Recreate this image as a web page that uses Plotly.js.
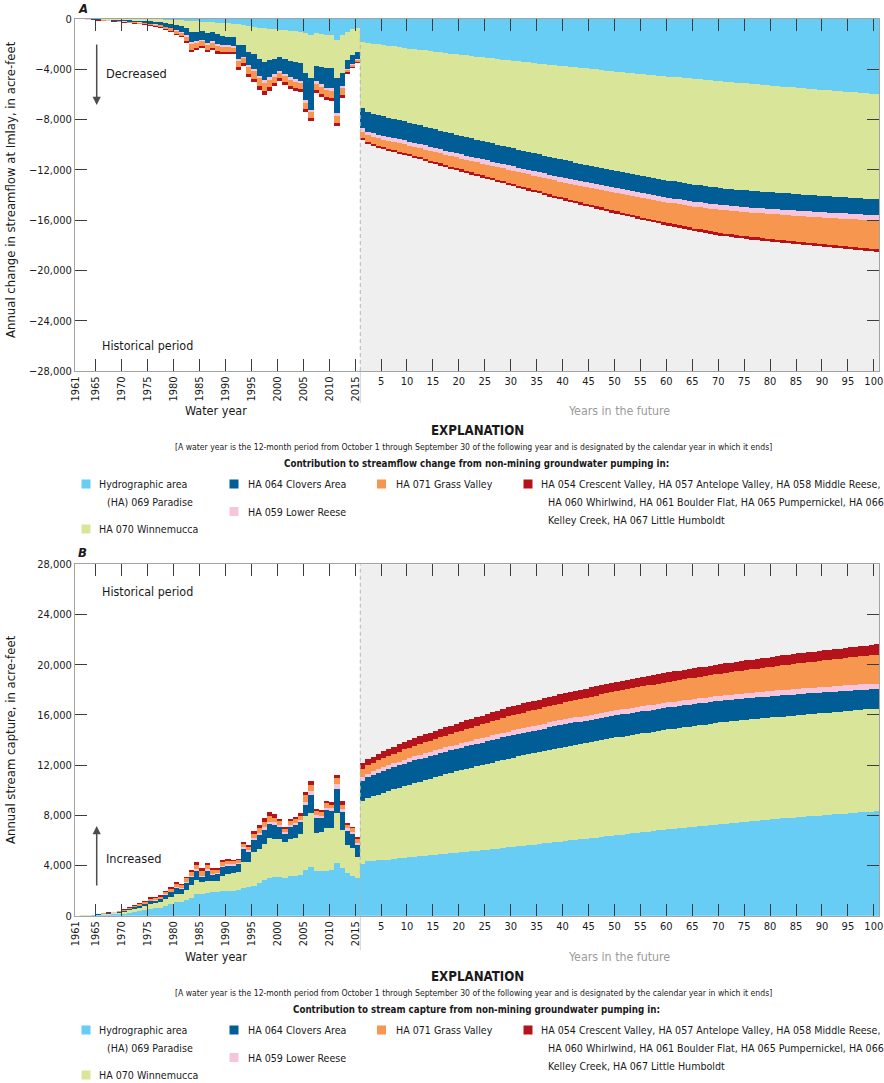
<!DOCTYPE html>
<html>
<head>
<meta charset="utf-8">
<script src="https://cdn.plot.ly/plotly-3.0.1.min.js"></script>
<style>
  html, body { margin: 0; padding: 0; background: #ffffff; }
  #chart { width: 884px; height: 1083px; }
</style>
</head>
<body>
<div id="chart"></div>
<script>
// ---------------------------------------------------------------------------
// Time axis: water years 1961-2015, then years 1-100 in the future
// ---------------------------------------------------------------------------
const histYears = Array.from({ length: 55 }, (_, i) => 1961 + i);
const futureYears = Array.from({ length: 100 }, (_, i) => i + 1);

const histTickYears = [1961, 1965, 1970, 1975, 1980, 1985, 1990, 1995, 2000, 2005, 2010, 2015];
const histTickLabels = ['1961', '1965', '1970', '1975', '1980', '1985', '1990', '1995', '2000', '2005', '2010', '2015'];
const futureTickYears = [5, 10, 15, 20, 25, 30, 35, 40, 45, 50, 55, 60, 65, 70, 75, 80, 85, 90, 95, 100];
const futureTickLabels = ['5', '10', '15', '20', '25', '30', '35', '40', '45', '50', '55', '60', '65', '70', '75', '80', '85', '90', '95', '100'];

const aTickVals = [0, -4000, -8000, -12000, -16000, -20000, -24000, -28000];
const bTickVals = [0, 4000, 8000, 12000, 16000, 20000, 24000, 28000];

// ---------------------------------------------------------------------------
// A: annual change in streamflow at Imlay (acre-feet), by pumping area
// ---------------------------------------------------------------------------
const aParadiseHist = [0, -1, -2, -4, -5, -6, -7, -8, -9, -11,
  -13, -15, -17, -19, -25, -30, -35, -45, -55, -80,
  -100, -130, -170, -180, -230, -250, -260, -300, -320, -350,
  -370, -430, -450, -550, -600, -680, -720, -780, -820, -850,
  -880, -920, -950, -1000, -1150, -1300, -1150, -1200, -1250, -1300,
  -1650, -1300, -1000, -820, -680];
const aWinnemuccaHist = [-5, -11, -17, -25, -34, -42, -48, -56, -64, -78,
  -90, -104, -118, -132, -155, -170, -195, -275, -305, -390,
  -430, -570, -880, -820, -720, -850, -740, -900, -1030, -1050,
  -1080, -1670, -1650, -2050, -2200, -2520, -2680, -2520, -2330, -2150,
  -2320, -2430, -2500, -2500, -3150, -3400, -2550, -2600, -2650, -2600,
  -3050, -3000, -2300, -2030, -1920];
const aCloversHist = [-6, -13, -19, -29, -38, -48, -54, -64, -74, -90,
  -102, -118, -134, -150, -180, -200, -220, -280, -320, -430,
  -470, -600, -800, -750, -700, -800, -750, -800, -750, -700,
  -700, -1100, -900, -1050, -1150, -1300, -1450, -1350, -1250, -1100,
  -1200, -1300, -1350, -1400, -2150, -2500, -1250, -1400, -1550, -1600,
  -2750, -1000, -650, -700, -600];
const aLowerReeseHist = [-2, -3, -4, -6, -8, -11, -12, -14, -17, -20,
  -23, -27, -30, -34, -40, -44, -50, -60, -64, -80,
  -90, -120, -160, -150, -130, -150, -140, -150, -140, -130,
  -130, -170, -140, -190, -210, -230, -240, -210, -180, -160,
  -170, -180, -180, -180, -200, -200, -190, -200, -200, -200,
  -250, -200, -80, -70, -64];
const aGrassHist = [-4, -7, -12, -17, -23, -29, -33, -39, -45, -55,
  -63, -72, -82, -92, -110, -121, -138, -165, -176, -220,
  -248, -330, -440, -412, -358, -412, -385, -412, -385, -358,
  -358, -468, -385, -522, -578, -632, -660, -578, -495, -440,
  -468, -495, -495, -495, -500, -480, -522, -550, -550, -550,
  -550, -550, -220, -192, -176];
const aOtherHist = [-2, -4, -6, -9, -12, -14, -16, -19, -21, -26,
  -29, -34, -39, -43, -50, -55, -62, -75, -80, -100,
  -112, -150, -200, -188, -162, -188, -175, -188, -175, -162,
  -162, -212, -175, -238, -262, -288, -300, -262, -225, -200,
  -212, -225, -225, -225, -220, -220, -238, -250, -250, -250,
  -250, -250, -100, -88, -80];

const aParadiseFuture = [-1850, -1910, -1960, -2020, -2070, -2130, -2180, -2240, -2290, -2350,
  -2400, -2450, -2500, -2550, -2600, -2650, -2700, -2750, -2800, -2850,
  -2900, -2940, -2990, -3040, -3090, -3130, -3180, -3230, -3270, -3320,
  -3360, -3410, -3450, -3500, -3540, -3580, -3630, -3670, -3720, -3760,
  -3800, -3840, -3890, -3930, -3970, -4010, -4050, -4100, -4140, -4180,
  -4220, -4260, -4300, -4340, -4380, -4420, -4460, -4500, -4540, -4580,
  -4620, -4650, -4690, -4730, -4770, -4800, -4840, -4880, -4910, -4950,
  -4990, -5020, -5060, -5090, -5130, -5160, -5200, -5230, -5270, -5300,
  -5330, -5370, -5400, -5440, -5470, -5500, -5540, -5570, -5610, -5640,
  -5670, -5710, -5740, -5770, -5800, -5840, -5870, -5900, -5940, -5970];
const aWinnemuccaFuture = [-5250, -5490, -5590, -5630, -5680, -5720, -5770, -5810, -5860, -5900,
  -5960, -6010, -6070, -6120, -6180, -6230, -6290, -6340, -6400, -6450,
  -6500, -6560, -6610, -6660, -6720, -6770, -6820, -6870, -6930, -6980,
  -7030, -7080, -7130, -7180, -7230, -7290, -7340, -7390, -7440, -7490,
  -7530, -7580, -7620, -7660, -7710, -7750, -7790, -7830, -7880, -7920,
  -7960, -7990, -8030, -8060, -8100, -8130, -8170, -8200, -8240, -8270,
  -8300, -8320, -8350, -8370, -8400, -8420, -8440, -8460, -8480, -8500,
  -8500, -8505, -8505, -8510, -8510, -8510, -8505, -8505, -8500, -8500,
  -8490, -8490, -8480, -8480, -8470, -8460, -8460, -8450, -8450, -8440,
  -8430, -8420, -8420, -8410, -8400, -8390, -8380, -8380, -8370, -8360];
const aCloversFuture = [-1550, -1550, -1540, -1540, -1530, -1530, -1520, -1520, -1510, -1500,
  -1500, -1500, -1490, -1490, -1480, -1480, -1470, -1470, -1460, -1460,
  -1460, -1450, -1450, -1450, -1440, -1440, -1440, -1430, -1430, -1430,
  -1430, -1420, -1420, -1420, -1410, -1410, -1410, -1400, -1400, -1400,
  -1400, -1400, -1390, -1390, -1390, -1390, -1380, -1380, -1380, -1380,
  -1380, -1370, -1370, -1370, -1370, -1370, -1360, -1360, -1360, -1360,
  -1360, -1350, -1350, -1350, -1350, -1350, -1340, -1340, -1340, -1340,
  -1340, -1330, -1330, -1330, -1330, -1330, -1320, -1320, -1320, -1320,
  -1320, -1310, -1310, -1310, -1310, -1310, -1300, -1300, -1300, -1300,
  -1300, -1290, -1290, -1290, -1290, -1290, -1280, -1280, -1280, -1280];
const aLowerReeseFuture = [-300, -300, -305, -305, -310, -310, -315, -315, -320, -320,
  -320, -325, -325, -330, -330, -330, -335, -335, -340, -340,
  -340, -345, -345, -345, -350, -350, -350, -355, -355, -355,
  -360, -360, -360, -360, -365, -365, -365, -370, -370, -370,
  -370, -375, -375, -375, -375, -380, -380, -380, -380, -380,
  -385, -385, -385, -385, -390, -390, -390, -390, -390, -395,
  -395, -395, -395, -395, -400, -400, -400, -400, -400, -400,
  -400, -405, -405, -405, -405, -405, -405, -410, -410, -410,
  -410, -410, -410, -410, -415, -415, -415, -415, -415, -415,
  -415, -415, -420, -420, -420, -420, -420, -420, -420, -420];
const aGrassFuture = [-550, -570, -580, -600, -620, -630, -650, -670, -680, -700,
  -720, -730, -750, -770, -790, -800, -820, -840, -850, -870,
  -890, -910, -920, -940, -960, -980, -1000, -1010, -1030, -1050,
  -1070, -1090, -1110, -1130, -1150, -1170, -1190, -1210, -1230, -1250,
  -1270, -1290, -1310, -1330, -1350, -1370, -1390, -1410, -1430, -1450,
  -1470, -1490, -1510, -1530, -1550, -1570, -1590, -1610, -1630, -1650,
  -1670, -1690, -1710, -1730, -1750, -1770, -1790, -1810, -1830, -1850,
  -1860, -1880, -1890, -1900, -1920, -1930, -1940, -1950, -1970, -1980,
  -1990, -2010, -2020, -2040, -2050, -2060, -2080, -2090, -2110, -2120,
  -2140, -2150, -2170, -2190, -2200, -2220, -2240, -2250, -2270, -2290];
const aOtherFuture = [-150, -150, -150, -155, -155, -155, -155, -160, -160, -160,
  -160, -160, -165, -165, -165, -165, -165, -170, -170, -170,
  -170, -170, -170, -175, -175, -175, -175, -175, -175, -180,
  -180, -180, -180, -180, -180, -180, -185, -185, -185, -185,
  -185, -185, -185, -185, -190, -190, -190, -190, -190, -190,
  -190, -190, -190, -195, -195, -195, -195, -195, -195, -195,
  -195, -195, -200, -200, -200, -200, -200, -200, -200, -200,
  -200, -200, -200, -200, -205, -205, -205, -205, -205, -205,
  -205, -205, -205, -205, -205, -205, -210, -210, -210, -210,
  -210, -210, -210, -210, -210, -210, -210, -210, -210, -210];

// ---------------------------------------------------------------------------
// B: annual stream capture (acre-feet), by pumping area
// ---------------------------------------------------------------------------
const bParadiseHist = [3, 9, 15, 25, 42, 65, 85, 105, 130, 165,
  240, 300, 350, 420, 560, 600, 650, 800, 900, 1100,
  1100, 1250, 1450, 1700, 1750, 1800, 1850, 1850, 1950, 2000,
  2000, 2050, 2200, 2300, 2400, 2600, 2850, 3000, 3050, 3100,
  3000, 3150, 3150, 3250, 3640, 3900, 3560, 3600, 3600, 3650,
  4170, 3770, 3370, 3190, 3000];
const bWinnemuccaHist = [3, 9, 15, 24, 38, 58, 75, 92, 115, 145,
  200, 240, 280, 320, 400, 400, 430, 530, 600, 650,
  600, 800, 1000, 1150, 900, 950, 900, 900, 1250, 1350,
  1400, 1450, 2100, 1950, 2700, 2750, 2900, 3200, 3100, 3000,
  2850, 3000, 3050, 3250, 4330, 4260, 3000, 3050, 3410, 3360,
  3990, 3060, 2260, 2180, 1700];
const bCloversHist = [2, 5, 8, 13, 20, 30, 40, 50, 62, 75,
  100, 120, 140, 160, 200, 210, 230, 300, 350, 450,
  400, 550, 650, 750, 450, 850, 500, 550, 700, 650,
  600, 600, 1000, 850, 950, 1050, 1100, 1100, 1100, 950,
  700, 950, 1000, 1000, 850, 1460, 1250, 1150, 1400, 1350,
  1910, 1400, 1150, 1150, 950];
const bLowerReeseHist = [0, 1, 2, 3, 5, 8, 10, 12, 15, 18,
  25, 30, 35, 40, 50, 50, 50, 60, 70, 80,
  80, 90, 100, 110, 90, 100, 90, 80, 100, 100,
  100, 100, 150, 150, 170, 180, 200, 190, 180, 160,
  150, 150, 160, 160, 270, 320, 200, 180, 200, 200,
  400, 250, 180, 170, 150];
const bGrassHist = [1, 4, 6, 9, 15, 23, 30, 37, 48, 60,
  85, 100, 110, 130, 160, 160, 170, 200, 220, 270,
  250, 290, 310, 370, 380, 340, 330, 280, 300, 260,
  220, 200, 280, 250, 330, 380, 450, 450, 380, 320,
  240, 280, 310, 320, 530, 480, 320, 300, 330, 300,
  530, 380, 300, 280, 300];
const bOtherHist = [1, 2, 4, 6, 10, 16, 20, 24, 30, 37,
  50, 60, 65, 70, 90, 90, 90, 100, 110, 130,
  120, 130, 130, 170, 200, 190, 170, 140, 140, 130,
  120, 120, 170, 130, 200, 240, 320, 360, 270, 170,
  150, 170, 190, 180, 260, 280, 170, 170, 210, 190,
  250, 240, 140, 130, 150];

const bParadiseFuture = [4150, 4350, 4380, 4400, 4420, 4470, 4520, 4560, 4610, 4650,
  4690, 4730, 4770, 4810, 4850, 4890, 4930, 4970, 5010, 5050,
  5090, 5130, 5180, 5220, 5260, 5310, 5350, 5390, 5440, 5480,
  5530, 5570, 5620, 5670, 5710, 5760, 5810, 5860, 5900, 5950,
  6000, 6050, 6090, 6140, 6190, 6230, 6280, 6330, 6370, 6420,
  6470, 6510, 6560, 6600, 6650, 6700, 6740, 6790, 6830, 6880,
  6920, 6960, 7000, 7050, 7090, 7130, 7170, 7210, 7260, 7300,
  7340, 7380, 7410, 7450, 7490, 7530, 7570, 7600, 7640, 7680,
  7710, 7750, 7780, 7810, 7850, 7880, 7910, 7940, 7980, 8010,
  8040, 8070, 8100, 8140, 8170, 8200, 8230, 8260, 8290, 8320];
const bWinnemuccaFuture = [4950, 5000, 5120, 5250, 5380, 5470, 5550, 5640, 5720, 5800,
  5880, 5950, 6030, 6100, 6180, 6250, 6330, 6400, 6480, 6550,
  6610, 6670, 6720, 6780, 6840, 6890, 6950, 7010, 7060, 7120,
  7160, 7200, 7240, 7270, 7310, 7350, 7390, 7420, 7460, 7500,
  7530, 7560, 7590, 7610, 7640, 7670, 7700, 7720, 7750, 7780,
  7800, 7820, 7840, 7860, 7880, 7890, 7910, 7930, 7950, 7970,
  7980, 8000, 8010, 8020, 8040, 8050, 8060, 8070, 8090, 8100,
  8100, 8100, 8110, 8110, 8110, 8110, 8110, 8120, 8120, 8120,
  8120, 8120, 8130, 8130, 8130, 8130, 8130, 8140, 8140, 8140,
  8140, 8150, 8150, 8160, 8160, 8160, 8170, 8170, 8180, 8180];
const bCloversFuture = [1650, 1670, 1690, 1710, 1730, 1750, 1760, 1770, 1790, 1800,
  1800, 1800, 1805, 1805, 1805, 1805, 1805, 1800, 1800, 1800,
  1800, 1800, 1800, 1800, 1800, 1800, 1800, 1800, 1800, 1800,
  1800, 1800, 1800, 1800, 1800, 1800, 1800, 1800, 1800, 1800,
  1800, 1790, 1790, 1790, 1780, 1780, 1780, 1780, 1770, 1770,
  1770, 1770, 1760, 1760, 1760, 1760, 1760, 1750, 1750, 1750,
  1750, 1750, 1750, 1750, 1740, 1740, 1740, 1740, 1740, 1740,
  1740, 1730, 1730, 1720, 1720, 1720, 1710, 1710, 1700, 1700,
  1700, 1690, 1690, 1680, 1680, 1670, 1670, 1660, 1660, 1650,
  1640, 1630, 1620, 1610, 1600, 1590, 1580, 1570, 1560, 1550];
const bLowerReeseFuture = [300, 300, 305, 305, 310, 310, 315, 315, 320, 320,
  325, 325, 330, 330, 335, 335, 340, 340, 345, 350,
  350, 355, 355, 360, 360, 365, 365, 370, 375, 380,
  380, 380, 385, 385, 390, 390, 395, 395, 400, 400,
  400, 400, 400, 400, 400, 400, 400, 400, 400, 400,
  400, 400, 400, 400, 400, 400, 400, 400, 400, 400,
  400, 400, 400, 400, 400, 400, 400, 400, 400, 400,
  402, 404, 406, 408, 410, 412, 414, 416, 418, 420,
  421, 422, 423, 424, 425, 426, 427, 428, 429, 430,
  432, 434, 436, 438, 440, 442, 444, 446, 448, 450];
const bGrassFuture = [650, 670, 690, 710, 730, 750, 770, 790, 810, 830,
  845, 860, 880, 895, 915, 930, 950, 965, 985, 1000,
  1020, 1040, 1060, 1090, 1110, 1130, 1150, 1170, 1200, 1220,
  1230, 1240, 1260, 1270, 1280, 1300, 1310, 1320, 1340, 1350,
  1370, 1390, 1400, 1420, 1440, 1460, 1480, 1490, 1510, 1530,
  1540, 1550, 1570, 1580, 1590, 1600, 1610, 1630, 1640, 1650,
  1660, 1670, 1680, 1690, 1700, 1710, 1720, 1730, 1740, 1750,
  1770, 1790, 1810, 1820, 1840, 1860, 1880, 1900, 1910, 1930,
  1950, 1970, 1990, 2010, 2030, 2040, 2060, 2080, 2100, 2120,
  2140, 2160, 2180, 2200, 2220, 2230, 2250, 2270, 2290, 2310];
const bOtherFuture = [450, 470, 490, 500, 520, 540, 550, 570, 590, 600,
  610, 620, 630, 640, 645, 650, 660, 665, 670, 680,
  685, 690, 695, 700, 700, 705, 710, 710, 715, 720,
  720, 720, 725, 725, 725, 725, 730, 730, 730, 730,
  730, 730, 735, 735, 735, 735, 740, 740, 740, 740,
  740, 740, 745, 745, 745, 745, 750, 750, 750, 750,
  750, 755, 755, 760, 760, 760, 765, 765, 770, 770,
  770, 770, 775, 775, 775, 775, 780, 780, 780, 780,
  780, 785, 785, 785, 785, 790, 790, 790, 790, 790,
  795, 795, 795, 795, 795, 800, 800, 800, 800, 800];

// ---------------------------------------------------------------------------
// Series styling
// ---------------------------------------------------------------------------
const seriesNames = ['HA 069 Paradise', 'HA 070 Winnemucca', 'HA 064 Clovers Area',
  'HA 059 Lower Reese', 'HA 071 Grass Valley', 'Other hydrographic areas'];
const seriesColors = ['#67cdf4', '#d9e598', '#005d95', '#f6c4dd', '#f7964e', '#b5121b'];

const panelA = [
  [aParadiseHist, aParadiseFuture], [aWinnemuccaHist, aWinnemuccaFuture],
  [aCloversHist, aCloversFuture], [aLowerReeseHist, aLowerReeseFuture],
  [aGrassHist, aGrassFuture], [aOtherHist, aOtherFuture]
];
const panelB = [
  [bParadiseHist, bParadiseFuture], [bWinnemuccaHist, bWinnemuccaFuture],
  [bCloversHist, bCloversFuture], [bLowerReeseHist, bLowerReeseFuture],
  [bGrassHist, bGrassFuture], [bOtherHist, bOtherFuture]
];
[panelA, panelB].forEach(panel => panel.forEach(([h, f], i) => {
  if (h.length !== histYears.length || f.length !== futureYears.length) {
    throw new Error('length mismatch in series ' + i + ': ' + h.length + '/' + f.length);
  }
}));

// Each year occupies one unit slot; historical years first, future years after.
const histSlot = histYears.map(y => y - histYears[0]);
const futureStart = histYears.length;
const futureSlot = futureYears.map(k => futureStart + k - 1);
const slotCount = histYears.length + futureYears.length;
const slots = histSlot.concat(futureSlot);

const histTickVals = histTickYears.map(y => y - histYears[0]);
const futureTickVals = futureTickYears.map(k => futureStart + k - 1);

// ---------------------------------------------------------------------------
// Page geometry helpers (pixel -> paper)
// ---------------------------------------------------------------------------
const W = 884, H = 1083;
const fx = p => p / W;
const fy = p => 1 - p / H;
const FONT = '"Liberation Sans Narrow", "Arial Narrow", "DejaVu Sans Condensed", sans-serif';
const INK = '#1a1a1a';

function barTraces(panel, xa, ya) {
  return panel.map(([h, f], i) => ({
    type: 'bar',
    name: seriesNames[i],
    x: slots,
    y: h.concat(f),
    width: 1,
    offset: 0,
    marker: { color: seriesColors[i], line: { width: 0 } },
    xaxis: xa,
    yaxis: ya,
    hoverinfo: 'skip',
    showlegend: false
  }));
}
// Empty traces so the overlaid future-year axes get their own subplot
function axisHolder(xa, ya) {
  return { type: 'scatter', mode: 'markers', x: [], y: [], xaxis: xa, yaxis: ya,
    hoverinfo: 'skip', showlegend: false };
}

const data = barTraces(panelA, 'x', 'y')
  .concat(barTraces(panelB, 'x2', 'y2'))
  .concat([axisHolder('x3', 'y'), axisHolder('x4', 'y2')]);

const xBase = {
  range: [0, slotCount],
  domain: [fx(75), fx(879)],
  showgrid: false,
  zeroline: false,
  showline: true,
  linecolor: '#a3a3a3',
  linewidth: 1,
  mirror: 'ticks',
  ticks: 'inside',
  ticklen: 12,
  tickwidth: 1,
  tickcolor: '#3c3c3c',
  tickfont: { family: FONT, size: 11, color: INK },
  tickmode: 'array',
  fixedrange: true
};
const histAxis = anchor => Object.assign({}, xBase, {
  anchor, tickvals: histTickVals, ticktext: histTickLabels, tickangle: -90
});
const futureAxis = (anchor, over) => Object.assign({}, xBase, {
  anchor, overlaying: over, tickvals: futureTickVals, ticktext: futureTickLabels, tickangle: 0
});
const yBase = {
  showgrid: false,
  zeroline: false,
  showline: true,
  linecolor: '#a3a3a3',
  linewidth: 1,
  mirror: 'ticks',
  ticks: 'inside',
  ticklen: 12,
  tickwidth: 1,
  tickcolor: '#3c3c3c',
  tickfont: { family: FONT, size: 11, color: INK },
  tickmode: 'array',
  tickformat: ',',
  fixedrange: true
};

function txt(text, x, y, size, opts = {}) {
  return {
    text, x: fx(x), y: fy(y), xref: 'paper', yref: 'paper',
    showarrow: false,
    xanchor: opts.anchor || 'left', yanchor: 'middle',
    textangle: opts.angle || 0,
    font: { family: FONT, size, color: opts.color || INK }
  };
}
function arrow(x, tipY, tailY) {
  return {
    text: '', x: fx(x), y: fy(tipY), xref: 'paper', yref: 'paper',
    showarrow: true, ax: 0, ay: tailY - tipY,
    arrowhead: 2, arrowsize: 1.1, arrowwidth: 1.5, arrowcolor: '#4d4d4d'
  };
}
function swatch(cx, cy, color) {
  return {
    type: 'rect', xref: 'paper', yref: 'paper',
    x0: fx(cx - 4.5), x1: fx(cx + 4.5), y0: fy(cy + 4.5), y1: fy(cy - 4.5),
    fillcolor: color, line: { width: 0 }
  };
}

// Explanation block drawn under each panel
function explanation(top, headline) {
  const row = top + 54;
  const LEG = 10.6;
  const ann = [
    txt('<b>EXPLANATION</b>', 478, top, 13.2, { anchor: 'center' }),
    txt('[A water year is the 12-month period from October 1 through September 30 of the following year and is designated by the calendar year in which it ends]', 473, top + 17, 8.6, { anchor: 'center' }),
    txt('<b>' + headline + '</b>', 476, top + 33, 9.7, { anchor: 'center' }),
    txt('Hydrographic area', 97, row, LEG),
    txt('(HA) 069 Paradise', 105, row + 17.5, LEG),
    txt('HA 070 Winnemucca', 97, row + 45, LEG),
    txt('HA 064 Clovers Area', 246, row, LEG),
    txt('HA 059 Lower Reese', 246, row + 27.5, LEG),
    txt('HA 071 Grass Valley', 394, row, LEG),
    txt('HA 054 Crescent Valley, HA 057 Antelope Valley, HA 058 Middle Reese,', 539, row, LEG),
    txt('HA 060 Whirlwind, HA 061 Boulder Flat, HA 065 Pumpernickel, HA 066', 546, row + 18, LEG),
    txt('Kelley Creek, HA 067 Little Humboldt', 546, row + 36, LEG)
  ];
  const shp = [
    swatch(86, row, seriesColors[0]),
    swatch(86, row + 45, seriesColors[1]),
    swatch(234, row, seriesColors[2]),
    swatch(234, row + 27.5, seriesColors[3]),
    swatch(381.5, row, seriesColors[4]),
    swatch(528, row, seriesColors[5])
  ];
  return { ann, shp };
}

const explA = explanation(430, 'Contribution to streamflow change from non-mining groundwater pumping in:');
const explB = explanation(976, 'Contribution to stream capture from non-mining groundwater pumping in:');

// Future period: shaded background, dashed divider, and a separator under the axis
function futureShapes(xref, yref, axisBottomPx, separatorEndPx) {
  return [
    { type: 'rect', xref, yref: yref + ' domain', x0: futureStart, x1: slotCount, y0: 0, y1: 1,
      fillcolor: '#eeefee', line: { width: 0 }, layer: 'below' },
    { type: 'line', xref, yref: yref + ' domain', x0: futureStart, x1: futureStart, y0: 0, y1: 1,
      line: { color: '#b5b5b5', width: 1, dash: '4px,3px' } },
    { type: 'line', xref, yref: 'paper', x0: futureStart, x1: futureStart,
      y0: fy(separatorEndPx), y1: fy(axisBottomPx),
      line: { color: '#cfcfcf', width: 1 } }
  ];
}

const layout = {
  width: W,
  height: H,
  margin: { l: 0, r: 0, t: 0, b: 0 },
  paper_bgcolor: '#ffffff',
  plot_bgcolor: 'rgba(0,0,0,0)',
  barmode: 'relative',
  bargap: 0,
  showlegend: false,
  hovermode: false,
  font: { family: FONT, size: 11, color: INK },
  xaxis: histAxis('y'),
  xaxis3: futureAxis('y', 'x'),
  xaxis2: histAxis('y2'),
  xaxis4: futureAxis('y2', 'x2'),
  yaxis: Object.assign({}, yBase, {
    anchor: 'x', domain: [fy(371), fy(19)], range: [-28000, 0], tickvals: aTickVals
  }),
  yaxis2: Object.assign({}, yBase, {
    anchor: 'x2', domain: [fy(915.7), fy(564.3)], range: [0, 28000], tickvals: bTickVals
  }),
  shapes: futureShapes('x', 'y', 372, 403)
    .concat(futureShapes('x2', 'y2', 917, 950))
    .concat(explA.shp, explB.shp),
  annotations: [
    // Panel A
    txt('<b><i>A</i></b>', 76, 8, 13),
    txt('Decreased', 104, 73, 12.7),
    arrow(96.7, 105, 43),
    txt('Historical period', 100, 345, 12.4),
    txt('Annual change in streamflow at Imlay, in acre-feet', 10, 190, 13, { anchor: 'center', angle: -90 }),
    txt('Water year', 216, 411, 12.5, { anchor: 'center' }),
    txt('Years in the future', 619, 411, 12.3, { anchor: 'center', color: '#9b9b9b' }),
    // Panel B
    txt('<b><i>B</i></b>', 76, 552, 13),
    txt('Historical period', 100, 591, 12.4),
    txt('Increased', 104, 858, 12.7),
    arrow(96.7, 826, 887),
    txt('Annual stream capture, in acre-feet', 10, 740, 13, { anchor: 'center', angle: -90 }),
    txt('Water year', 216, 956, 12.5, { anchor: 'center' }),
    txt('Years in the future', 619, 957, 12.3, { anchor: 'center', color: '#9b9b9b' })
  ].concat(explA.ann, explB.ann)
};

Plotly.newPlot('chart', data, layout, { staticPlot: true, displayModeBar: false });
</script>
</body>
</html>
